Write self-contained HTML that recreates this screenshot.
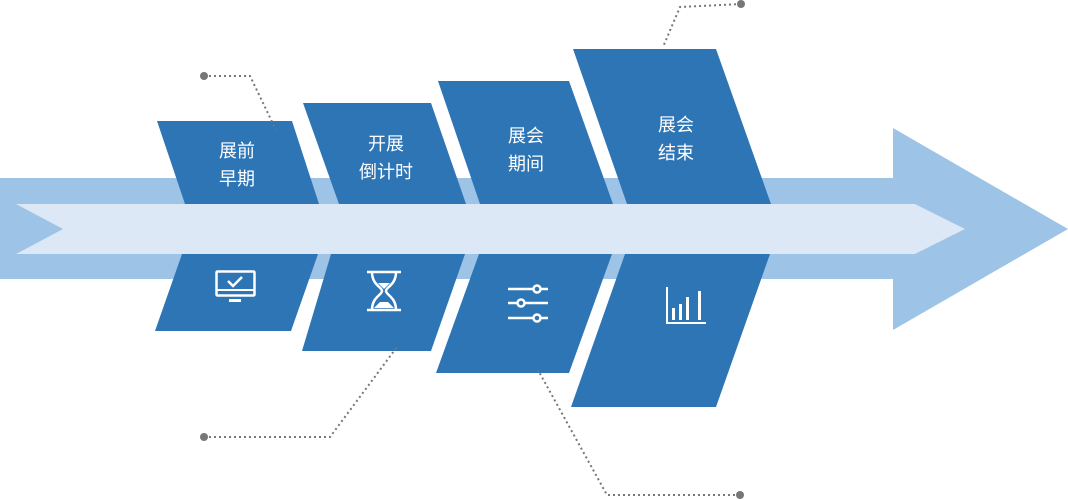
<!DOCTYPE html>
<html><head><meta charset="utf-8"><style>
body{margin:0;width:1068px;height:500px;background:#fff;overflow:hidden}
svg{display:block}
text{font-family:"Liberation Sans","Noto Sans CJK SC",sans-serif;font-size:18px;fill:#fff;text-anchor:middle}
</style></head><body>
<svg width="1068" height="500" viewBox="0 0 1068 500">
<polygon points="0,178 893,178 893,128 1068,229 893,330 893,279 0,279" fill="#9dc3e6"/>
<polygon points="16,204 915,204 965,229 915,254 16,254 63,229" fill="#dce8f5"/>
<g fill="#2e75b6">
<polygon points="157,121 292,121 319,204 185,204"/>
<polygon points="303,103 431,103 466,204 339,204"/>
<polygon points="438,81 569,81 613,204 480,204"/>
<polygon points="573,49 716,49 771,204 627,204"/>
<polygon points="182,254 318,254 291,331 155,331"/>
<polygon points="331,254 465,254 431,351 302,351"/>
<polygon points="479,254 612,254 569,373 436,373"/>
<polygon points="625,254 770,254 716,407 571,407"/>
</g>
<g fill="none" stroke="#777" stroke-width="2" stroke-dasharray="2,3">
<polyline points="204,76 250,76 276,130"/>
<polyline points="204,437 330,437 397,347"/>
<polyline points="740,495 607,495 538,370"/>
<polyline points="741,4 680,7 663,47"/>
</g>
<g fill="#777">
<circle cx="204" cy="76" r="4"/><circle cx="204" cy="437" r="4"/>
<circle cx="740" cy="495" r="4"/><circle cx="741" cy="4" r="4"/>
</g>
<text x="237" y="157">展前</text><text x="237" y="185">早期</text>
<text x="386" y="150">开展</text><text x="386" y="178">倒计时</text>
<text x="526" y="142">展会</text><text x="526" y="170">期间</text>
<text x="676" y="131">展会</text><text x="676" y="159">结束</text>
<g fill="none" stroke="#fff" stroke-width="2.5">
<rect x="216.5" y="271.5" width="38" height="24" rx="1"/>
<polyline points="228,281 233,286 242,277"/>
</g>
<rect x="216" y="289" width="39" height="2" fill="#fff"/>
<rect x="229" y="299" width="12" height="3" fill="#fff"/>
<g fill="none" stroke="#fff" stroke-width="2.5">
<line x1="367" y1="272" x2="401" y2="272"/><line x1="367" y1="310" x2="401" y2="310"/>
<path d="M372,272 C372,285 382,287 382,291 C382,295 372,297 372,310 M396,272 C396,285 386,287 386,291 C386,295 396,297 396,310"/>
</g>
<polygon points="374,308 394,308 388,302 380,302" fill="#fff"/>
<polygon points="378,283 390,283 384,289" fill="#fff"/>
<g stroke="#fff" stroke-width="2.5" fill="#2e75b6">
<line x1="508" y1="289" x2="548" y2="289"/><line x1="508" y1="303" x2="548" y2="303"/><line x1="508" y1="318" x2="548" y2="318"/>
<circle cx="537" cy="289" r="3.5"/><circle cx="521" cy="303" r="3.5"/><circle cx="537" cy="318" r="3.5"/>
</g>
<g fill="#fff">
<rect x="666" y="287" width="2" height="37"/><rect x="666" y="322" width="40" height="2"/>
<rect x="672" y="308" width="3" height="12"/><rect x="679" y="304" width="3" height="16"/>
<rect x="686" y="297" width="3" height="23"/><rect x="698" y="291" width="3" height="29"/>
</g>
</svg>
</body></html>
